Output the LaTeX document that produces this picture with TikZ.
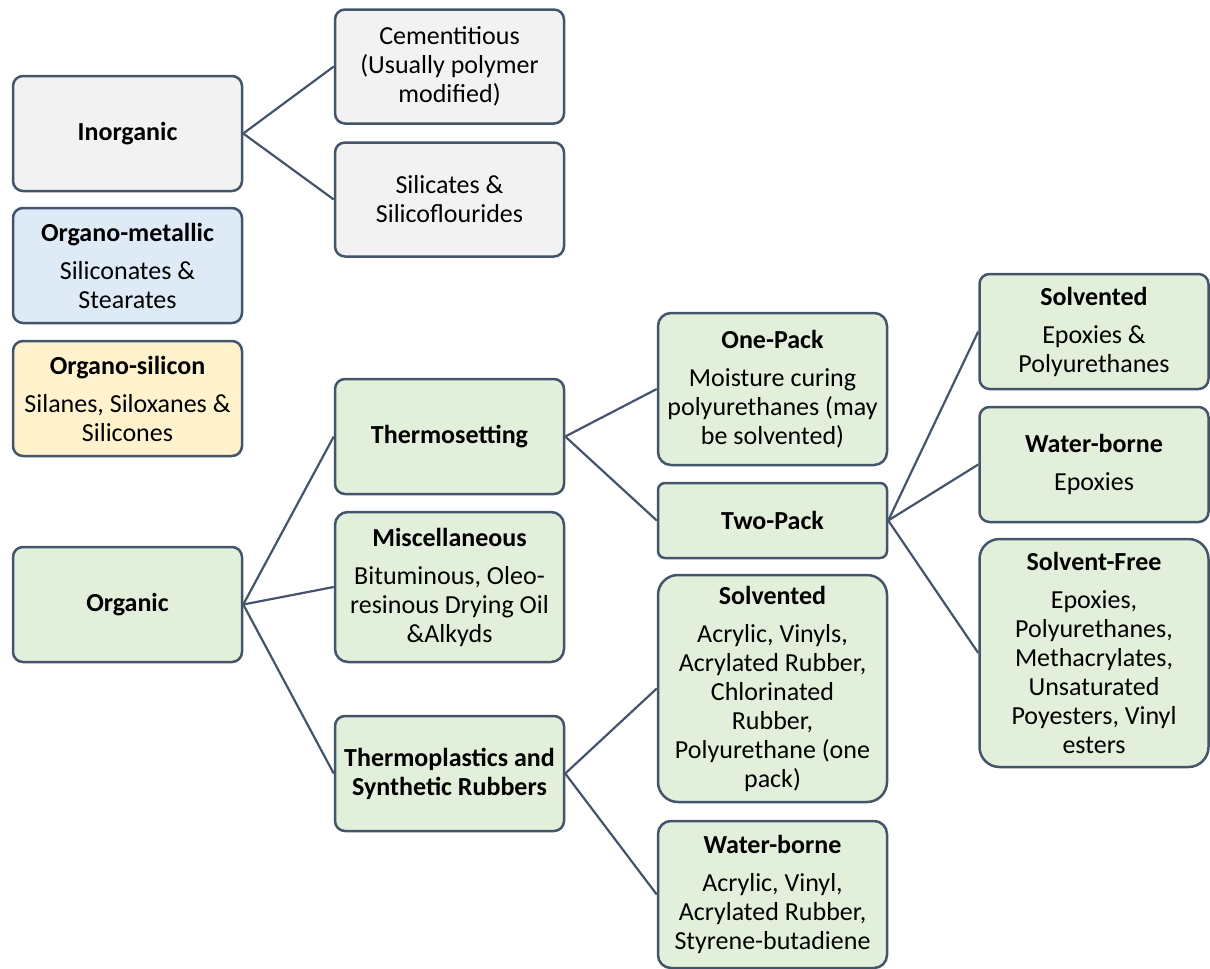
\documentclass[tikz,border=0pt]{standalone}
\usepackage{fontspec}
\setmainfont{Carlito}
\definecolor{bord}{HTML}{44546A}
\definecolor{grayf}{HTML}{F2F2F2}
\definecolor{bluef}{HTML}{DEEBF7}
\definecolor{yellowf}{HTML}{FFF2CC}
\definecolor{greenf}{HTML}{E2EFDA}
\begin{document}
\begin{tikzpicture}[x=1pt,y=-1pt,
  box/.style={draw=bord, line width=2.5pt, rounded corners=#1, minimum width=229pt,
    inner sep=3pt, align=center, font=\fontsize{26}{29}\selectfont},
  box/.default=10pt,
  conn/.style={draw=bord, line width=2.2pt}]
\useasboundingbox (0,0) rectangle (1210,969);
% column 1
\node[box, fill=grayf, minimum height=115pt] (inorg) at (127.5,133.5) {\textbf{Inorganic}};
\node[box, fill=bluef, minimum height=115pt] (orgmet) at (127.5,265.5) {\textbf{Organo-metallic}\\[9pt]Siliconates \&\\Stearates};
\node[box, fill=yellowf, minimum height=115pt] (orgsil) at (127.5,398.5) {\textbf{Organo-silicon}\\[9pt]Silanes, Siloxanes \&\\Silicones};
\node[box, fill=greenf, minimum height=115pt] (organic) at (127.5,604.5) {\textbf{Organic}};
% column 2
\node[box, fill=grayf, minimum height=114pt] (cement) at (449.5,66.5) {Cementitious\\(Usually polymer\\modified)};
\node[box, fill=grayf, minimum height=114pt] (silic) at (449.5,199.5) {Silicates \&\\Silicoflourides};
\node[box, fill=greenf, minimum height=115pt] (thermoset) at (449.5,436.5) {\textbf{Thermosetting}};
\node[box=13pt, fill=greenf, minimum height=150pt] (misc) at (449.5,587) {\textbf{Miscellaneous}\\[9pt]Bituminous, Oleo-\\resinous Drying Oil\\\&Alkyds};
\node[box, fill=greenf, minimum height=115pt] (thermoplast) at (449.5,773.5) {\textbf{Thermoplastics and}\\\textbf{Synthetic Rubbers}};
% column 3
\node[box=13pt, fill=greenf, minimum height=152pt] (onepack) at (772.5,389) {\textbf{One-Pack}\\[9pt]Moisture curing\\polyurethanes (may\\be solvented)};
\node[box=7pt, fill=greenf, minimum height=75pt] (twopack) at (772.5,520.5) {\textbf{Two-Pack}};
\node[box=20pt, fill=greenf, minimum height=227pt] (solvmid) at (772.5,688.5) {\textbf{Solvented}\\[9pt]Acrylic, Vinyls,\\Acrylated Rubber,\\Chlorinated\\Rubber,\\Polyurethane (one\\pack)};
\node[box=13pt, fill=greenf, minimum height=147pt] (watermid) at (772.5,894.5) {\textbf{Water-borne}\\[9pt]Acrylic, Vinyl,\\Acrylated Rubber,\\Styrene-butadiene};
% column 4
\node[box, fill=greenf, minimum height=115pt] (solvr) at (1094,331.5) {\textbf{Solvented}\\[9pt]Epoxies \&\\Polyurethanes};
\node[box, fill=greenf, minimum height=115pt] (waterr) at (1094,464.5) {\textbf{Water-borne}\\[9pt]Epoxies};
\node[box=20pt, fill=greenf, minimum height=228pt] (sfree) at (1094,653) {\textbf{Solvent-Free}\\[9pt]Epoxies,\\Polyurethanes,\\Methacrylates,\\Unsaturated\\Poyesters, Vinyl\\esters};
% connectors
\draw[conn] (inorg.east) -- (cement.west);
\draw[conn] (inorg.east) -- (silic.west);
\draw[conn] (organic.east) -- (thermoset.west);
\draw[conn] (organic.east) -- (misc.west);
\draw[conn] (organic.east) -- (thermoplast.west);
\draw[conn] (thermoset.east) -- (onepack.west);
\draw[conn] (thermoset.east) -- (twopack.west);
\draw[conn] (twopack.east) -- (solvr.west);
\draw[conn] (twopack.east) -- (waterr.west);
\draw[conn] (twopack.east) -- (sfree.west);
\draw[conn] (thermoplast.east) -- (solvmid.west);
\draw[conn] (thermoplast.east) -- (watermid.west);
\end{tikzpicture}
\end{document}
